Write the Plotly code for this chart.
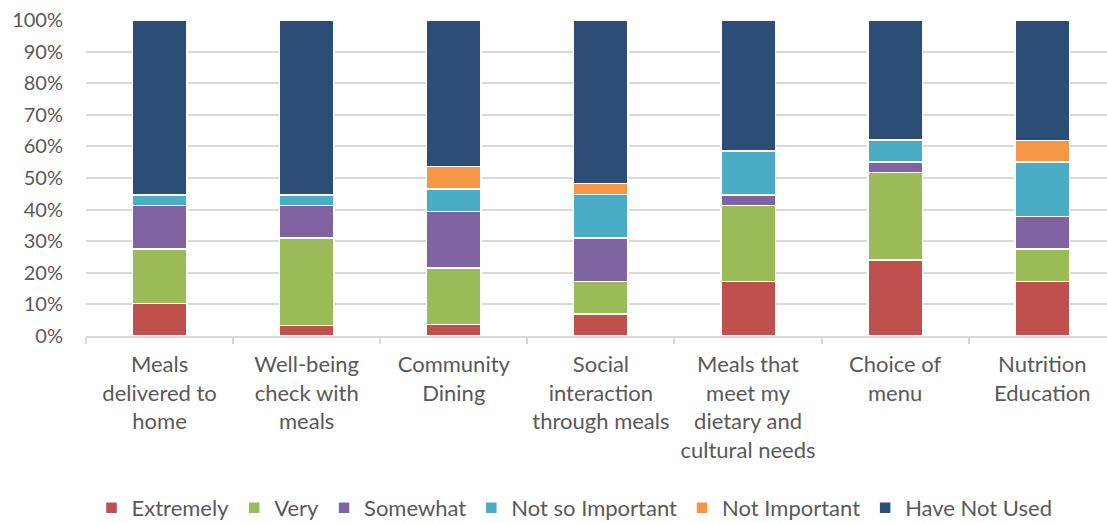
import plotly.graph_objects as go

# Services rated in the survey (line breaks as shown on the axis)
categories = [
    "Meals<br>delivered to<br>home",
    "Well-being<br>check with<br>meals",
    "Community<br>Dining",
    "Social<br>interaction<br>through meals",
    "Meals that<br>meet my<br>dietary and<br>cultural needs",
    "Choice of<br>menu",
    "Nutrition<br>Education",
]

# Share of respondents (%) for each importance rating
extremely = [10.3, 3.4, 3.6, 6.9, 17.2, 24.1, 17.2]
very = [17.2, 27.6, 17.9, 10.3, 24.1, 27.6, 10.3]
somewhat = [13.8, 10.3, 17.9, 13.8, 3.4, 3.4, 10.3]
not_so_important = [3.4, 3.4, 7.1, 13.8, 13.8, 6.9, 17.2]
not_important = [0.0, 0.0, 7.1, 3.4, 0.0, 0.0, 6.9]
have_not_used = [55.3, 55.3, 46.4, 51.8, 41.5, 38.0, 38.1]

series = [
    ("Extremely", extremely, "#C0504D"),
    ("Very", very, "#9BBB59"),
    ("Somewhat", somewhat, "#8064A2"),
    ("Not so Important", not_so_important, "#4BACC6"),
    ("Not Important", not_important, "#F79646"),
    ("Have Not Used", have_not_used, "#2C4D75"),
]

FONT = "Lato"
TEXT = "#595959"
GRID = "#D9D9D9"

fig = go.Figure()
for name, vals, color in series:
    fig.add_trace(go.Bar(
        x=categories, y=vals, name=name,
        marker=dict(color=color, line=dict(color="white", width=1.5)),
    ))

fig.update_layout(
    width=1107, height=523,
    barmode="stack", bargap=0.63,
    plot_bgcolor="white", paper_bgcolor="white",
    margin=dict(l=86, r=0, t=20, b=187),
    font=dict(family=FONT, size=22, color=TEXT),
    legend=dict(
        orientation="h", xref="container", yref="container",
        x=0.519, xanchor="center", y=0.029, yanchor="middle",
        font=dict(family=FONT, size=22, color=TEXT),
        itemwidth=30, traceorder="normal",
    ),
    showlegend=True,
)
fig.update_xaxes(
    type="category", range=[-0.5, 6.44],
    showline=True, linecolor=GRID, linewidth=1.5,
    ticks="outside", tickson="boundaries", ticklen=6, tickcolor=GRID, tickwidth=1.5,
    tickfont=dict(family=FONT, size=22, color=TEXT),
    ticklabelstandoff=8,
    showgrid=False,
)
fig.update_yaxes(
    range=[0, 100], dtick=10, ticksuffix="%",
    showgrid=True, gridcolor=GRID, gridwidth=1.5,
    zeroline=False, showline=False, ticks="",
    tickfont=dict(family=FONT, size=20, color=TEXT),
    ticklabelstandoff=22,
)

fig.write_html("out.html")
